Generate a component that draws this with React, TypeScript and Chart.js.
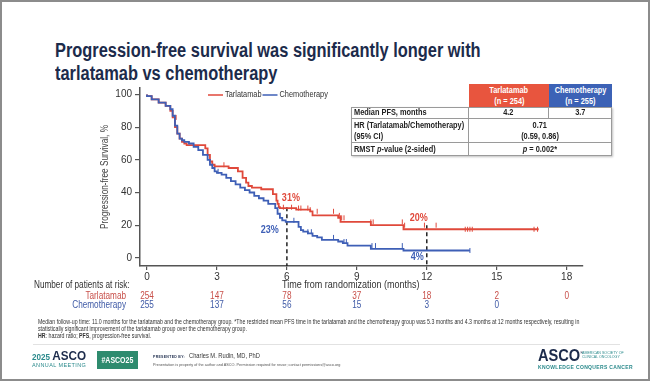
import React, { useEffect, useRef } from "react";
import { Chart, registerables } from "chart.js";

Chart.register(...registerables);

const SANS = '"Liberation Sans", Arial, sans-serif';
const SX = 0.82; // horizontal compression to mimic a narrow face

// ---- Data ----
const tarTimes = [0, 0.2, 0.5, 0.8, 1.0, 1.1, 1.2, 1.3, 1.4, 1.5, 1.6, 1.7, 2.5, 2.6, 2.7, 2.8, 2.9, 3.5, 3.9, 4.1, 4.25, 4.35, 4.5, 4.9, 5.4, 5.55, 5.6, 5.65, 5.7, 6.4, 7.0, 7.1, 8.2, 8.3, 9.6, 11.0, 13.6, 16.8];
const tarPFS = [100, 99, 97, 95, 93, 90, 86, 80, 76, 73, 71, 70, 69, 67, 63, 59, 57, 56, 55, 53, 49, 46, 44, 43, 42, 39, 35, 33, 31, 30.5, 29.5, 28.5, 26, 24.5, 22, 20, 17.5, 17.5];

const chemoTimes = [0, 0.2, 0.5, 0.8, 1.0, 1.1, 1.2, 1.3, 1.4, 1.5, 1.6, 1.8, 2.0, 2.2, 2.4, 2.6, 2.7, 2.8, 2.9, 3.0, 3.2, 3.4, 3.6, 3.8, 4.0, 4.2, 4.4, 4.6, 4.8, 5.0, 5.2, 5.5, 5.6, 5.7, 5.8, 5.95, 6.5, 6.6, 6.7, 6.9, 7.1, 7.3, 7.5, 8.2, 8.4, 8.6, 9.6, 11.0, 11.8, 13.85];
const chemoPFS = [100, 99, 97, 95, 93, 91, 87, 81, 76, 73, 72, 71, 70, 68, 66, 63, 60, 57, 55, 53, 52, 51, 49, 47, 45, 43, 41.5, 40, 38, 36.5, 35, 33, 30.5, 27, 24.5, 23, 22, 19, 17, 16, 15, 13.5, 12.5, 11, 10, 9, 7.5, 5.5, 4.5, 4.5];

const tarCensorTimes = [1.25, 3.3, 5.85, 6.2, 6.5, 6.6, 6.9, 7.0, 7.3, 8.0, 8.25, 8.3, 8.35, 8.45, 9.6, 9.7, 10.95, 11.05, 11.9, 12.4, 13.65, 13.75, 13.85, 13.95, 16.6, 16.75];
const chemoCensorTimes = [3.05, 6.3, 6.9, 7.05, 8.0, 8.45, 8.55, 9.65, 9.8, 10.95, 13.85];

const xTicks = [0, 3, 6, 9, 12, 15, 18];
const yTicks = [0, 20, 40, 60, 80, 100];

const atRiskTar = [254, 147, 78, 37, 18, 2, 0];
const atRiskChemo = [255, 137, 56, 15, 3, 0];

const landmarkMonths = [6, 12];
const landmarkTar = [31, 20];
const landmarkChemo = [23, 4];

const seriesNames = ["Tarlatamab", "Chemotherapy"];
const xTitle = "Time from randomization (months)";
const yTitle = "Progression-free Survival, %";
const RED = "#e0493b";
const BLUE = "#3e5fb6";
const RED_TXT = "#c8504a";
const BLUE_TXT = "#3f5aa6";

function stepValue(times: number[], values: number[], t: number) {
  let v = values[0];
  for (let i = 0; i < times.length; i++) if (times[i] <= t) v = values[i];
  return v;
}

function narrowText(ctx: any, text: string, x: number, y: number, align: string, rotate = 0) {
  ctx.save();
  ctx.translate(x, y);
  if (rotate) ctx.rotate(rotate);
  ctx.scale(SX, 1);
  ctx.textAlign = align;
  ctx.fillText(text, 0, 0);
  ctx.restore();
}

const overlayPlugin = {
  id: "overlay",
  beforeDatasetsDraw(chart: any) {
    const ctx = chart.ctx;
    const xs = chart.scales.x;
    const ys = chart.scales.y;
    const area = chart.chartArea;
    ctx.save();
    ctx.setLineDash([4, 3]);
    ctx.strokeStyle = "#222";
    ctx.lineWidth = 1.5;
    landmarkMonths.forEach((m, i) => {
      const x = xs.getPixelForValue(m);
      ctx.beginPath();
      ctx.moveTo(x, ys.getPixelForValue(landmarkTar[i]));
      ctx.lineTo(x, area.bottom);
      ctx.stroke();
    });
    ctx.restore();
  },
  afterDraw(chart: any) {
    const ctx = chart.ctx;
    const xs = chart.scales.x;
    const ys = chart.scales.y;
    const area = chart.chartArea;
    ctx.save();
    ctx.textBaseline = "middle";

    // axis titles
    ctx.fillStyle = "#333";
    ctx.font = `11px ${SANS}`;
    narrowText(ctx, xTitle, (xs.getPixelForValue(xTicks[0]) + xs.getPixelForValue(xTicks[xTicks.length - 1])) / 2 - 6, 285, "center");
    ctx.fillStyle = "#444";
    ctx.font = `10px ${SANS}`;
    narrowText(ctx, yTitle, 105, (area.top + area.bottom) / 2, "center", -Math.PI / 2);

    // landmark labels
    ctx.font = `bold 11px ${SANS}`;
    const x6 = xs.getPixelForValue(landmarkMonths[0]);
    const x12 = xs.getPixelForValue(landmarkMonths[1]);
    ctx.fillStyle = RED;
    narrowText(ctx, `${landmarkTar[0]}%`, x6 + 4, ys.getPixelForValue(landmarkTar[0]) - 9, "center");
    narrowText(ctx, `${landmarkTar[1]}%`, x12 - 8, ys.getPixelForValue(landmarkTar[1]) - 7, "center");
    ctx.fillStyle = BLUE;
    narrowText(ctx, `${landmarkChemo[0]}%`, x6 - 8, ys.getPixelForValue(landmarkChemo[0]) + 10, "right");
    narrowText(ctx, `${landmarkChemo[1]}%`, x12 - 3, ys.getPixelForValue(landmarkChemo[1]) + 6, "right");

    // legend
    ctx.font = `9px ${SANS}`;
    let lx = 208;
    const ly = 95;
    [RED, BLUE].forEach((c, i) => {
      ctx.strokeStyle = c;
      ctx.lineWidth = 1.5;
      ctx.beginPath();
      ctx.moveTo(lx, ly);
      ctx.lineTo(lx + 15, ly);
      ctx.stroke();
      ctx.fillStyle = "#333";
      narrowText(ctx, seriesNames[i], lx + 17, ly, "left");
      lx += 17 + ctx.measureText(seriesNames[i]).width * SX + 1;
    });

    // at risk table
    ctx.font = `10px ${SANS}`;
    ctx.fillStyle = "#333";
    narrowText(ctx, "Number of patients at risk:", 34, 285, "left");
    ctx.fillStyle = RED_TXT;
    narrowText(ctx, seriesNames[0], 126, 296, "right");
    ctx.fillStyle = BLUE_TXT;
    narrowText(ctx, seriesNames[1], 126, 305, "right");
    ctx.fillStyle = RED_TXT;
    atRiskTar.forEach((n, i) => narrowText(ctx, String(n), xs.getPixelForValue(xTicks[i]), 296, "center"));
    ctx.fillStyle = BLUE_TXT;
    atRiskChemo.forEach((n, i) => narrowText(ctx, String(n), xs.getPixelForValue(xTicks[i]), 305, "center"));
    ctx.restore();
  },
};

function KMChart() {
  const ref = useRef<HTMLCanvasElement | null>(null);
  useEffect(() => {
    if (!ref.current) return;
    const tarLine = tarTimes.map((t, i) => ({ x: t, y: tarPFS[i] }));
    const chemoLine = chemoTimes.map((t, i) => ({ x: t, y: chemoPFS[i] }));
    const tarCens = tarCensorTimes.map((t) => ({ x: t, y: stepValue(tarTimes, tarPFS, t) }));
    const chemoCens = chemoCensorTimes.map((t) => ({ x: t, y: stepValue(chemoTimes, chemoPFS, t) }));
    const chart = new Chart(ref.current, {
      type: "scatter",
      data: {
        datasets: [
          { label: seriesNames[0], data: tarLine, showLine: true, stepped: "after", borderColor: RED, borderWidth: 1.8, pointRadius: 0, order: 4 },
          { label: seriesNames[0] + " censored", data: tarCens, showLine: false, pointStyle: "line", rotation: 90, pointRadius: 2.5, borderColor: RED, borderWidth: 1, order: 3 },
          { label: seriesNames[1], data: chemoLine, showLine: true, stepped: "after", borderColor: BLUE, borderWidth: 1.8, pointRadius: 0, order: 2 },
          { label: seriesNames[1] + " censored", data: chemoCens, showLine: false, pointStyle: "line", rotation: 90, pointRadius: 2.5, borderColor: BLUE, borderWidth: 1, order: 1 },
        ],
      },
      options: {
        responsive: false,
        animation: false,
        events: [],
        layout: { padding: { left: 95, top: 88, right: 67, bottom: 91 } },
        plugins: { legend: { display: false }, tooltip: { enabled: false } },
        scales: {
          x: {
            type: "linear",
            min: -0.3,
            max: 18.7,
            afterFit: (s: any) => { s.height = 25; },
            afterBuildTicks: (s: any) => { s.ticks = xTicks.map((v) => ({ value: v })); },
            border: { display: true, color: "#555", width: 1.5 },
            grid: { drawOnChartArea: false, drawTicks: true, tickLength: 4, color: "#555", lineWidth: 1.2 },
            ticks: { color: "#333", font: { family: SANS, size: 10 }, padding: 1, maxRotation: 0 },
          },
          y: {
            type: "linear",
            min: -5,
            max: 104,
            afterFit: (s: any) => { s.width = 45; },
            afterBuildTicks: (s: any) => { s.ticks = yTicks.map((v) => ({ value: v })); },
            border: { display: true, color: "#555", width: 1.5 },
            grid: { drawOnChartArea: false, drawTicks: true, tickLength: 5, color: "#555", lineWidth: 1.2 },
            ticks: { color: "#333", font: { family: SANS, size: 10 }, padding: 3 },
          },
        },
      },
      plugins: [overlayPlugin],
    } as any);
    return () => chart.destroy();
  }, []);
  return <canvas ref={ref} width={650} height={382} style={{ position: "absolute", left: 0, top: 0, width: 650, height: 382 }} />;
}

function N({ children, origin = "left" }: { children: any; origin?: string }) {
  return (
    <span style={{ display: "inline-block", transform: `scaleX(${SX})`, transformOrigin: origin, whiteSpace: "nowrap" }}>{children}</span>
  );
}

const cell: React.CSSProperties = {
  position: "absolute",
  boxSizing: "border-box",
  display: "flex",
  flexDirection: "column",
  justifyContent: "center",
  fontFamily: SANS,
  fontWeight: "bold",
  fontSize: 9,
  lineHeight: "10.5px",
  color: "#222",
};

function StatsTable() {
  const B = "1px solid #9a9a9a";
  return (
    <div style={{ position: "absolute", left: 0, top: 0 }}>
      <div style={{ ...cell, left: 469, top: 84, width: 80, height: 23, background: "#e8553e", color: "#fff", alignItems: "center" }}>
        <N origin="center">Tarlatamab</N>
        <N origin="center">(n = 254)</N>
      </div>
      <div style={{ ...cell, left: 549, top: 84, width: 63, height: 23, background: "#3c62b6", color: "#fff", alignItems: "center" }}>
        <N origin="center">Chemotherapy</N>
        <N origin="center">(n = 255)</N>
      </div>
      <div style={{ position: "absolute", left: 351, top: 107, width: 261, height: 49, boxSizing: "border-box", border: B, background: "#fff", boxShadow: "1px 1px 2px rgba(0,0,0,0.25)" }} />
      <div style={{ ...cell, left: 351, top: 107, width: 118, height: 12, borderRight: B, borderBottom: B, paddingLeft: 3 }}><N>Median PFS, months</N></div>
      <div style={{ ...cell, left: 469, top: 107, width: 80, height: 12, borderRight: B, borderBottom: B, alignItems: "center" }}><N origin="center">4.2</N></div>
      <div style={{ ...cell, left: 549, top: 107, width: 62, height: 12, borderBottom: B, alignItems: "center" }}><N origin="center">3.7</N></div>
      <div style={{ ...cell, left: 351, top: 119, width: 118, height: 24, borderRight: B, borderBottom: B, paddingLeft: 3, alignItems: "flex-start" }}>
        <N>HR (Tarlatamab/Chemotherapy)</N>
        <N>(95% CI)</N>
      </div>
      <div style={{ ...cell, left: 469, top: 119, width: 142, height: 24, borderBottom: B, alignItems: "center" }}>
        <N origin="center">0.71</N>
        <N origin="center">(0.59, 0.86)</N>
      </div>
      <div style={{ ...cell, left: 351, top: 143, width: 118, height: 12, borderRight: B, paddingLeft: 3, alignItems: "flex-start" }}>
        <N>RMST <i>p</i>-value (2-sided)</N>
      </div>
      <div style={{ ...cell, left: 469, top: 143, width: 142, height: 12, alignItems: "center" }}>
        <N origin="center"><i>p</i> = 0.002*</N>
      </div>
    </div>
  );
}

function Footer() {
  const small: React.CSSProperties = { position: "absolute", fontFamily: SANS, whiteSpace: "nowrap" };
  return (
    <div style={{ position: "absolute", left: 0, top: 0 }}>
      <div style={{ ...small, left: 38, top: 318, fontSize: 6.4, lineHeight: "7.2px", color: "#333", transform: `scaleX(${SX})`, transformOrigin: "left top" }}>
        <div>Median follow-up time: 11.0 months for the tarlatamab and the chemotherapy group. *The restricted mean PFS time in the tarlatamab and the chemotherapy group was 5.3 months and 4.3 months at 12 months respectively, resulting in</div>
        <div>statistically significant improvement of the tarlatamab group over the chemotherapy group.</div>
        <div><b>HR</b>: hazard ratio; <b>PFS</b>, progression-free survival.</div>
      </div>
      <div style={{ position: "absolute", left: 33, top: 344, width: 587, height: 1, background: "#e2e2e2" }} />
      <div style={{ ...small, left: 32, top: 349, fontSize: 13, lineHeight: "14px", fontWeight: "bold", color: "#1c2b4b", transform: "scaleX(0.9)", transformOrigin: "left top" }}>
        <span style={{ fontSize: 9, color: "#2b8a8c", fontWeight: "bold" }}>2025 </span>ASCO
      </div>
      <div style={{ ...small, left: 32, top: 362, fontSize: 5.5, letterSpacing: 0.4, color: "#2b8a8c" }}>ANNUAL MEETING</div>
      <div style={{ position: "absolute", left: 97, top: 351, width: 41, height: 18, background: "#2e8b6e", color: "#fff", fontFamily: SANS, fontWeight: "bold", fontSize: 8.5, display: "flex", alignItems: "center", justifyContent: "center" }}>
        <N origin="center">#ASCO25</N>
      </div>
      <div style={{ ...small, left: 153, top: 352, fontSize: 7, color: "#333" }}>
        <span style={{ fontSize: 3.5, fontWeight: "bold", color: "#1c2b4b", letterSpacing: 0.3 }}>PRESENTED BY:</span>&nbsp;&nbsp;<N>Charles M. Rudin, MD, PhD</N>
      </div>
      <div style={{ ...small, left: 153, top: 363, fontSize: 3.8, color: "#555" }}>Presentation is property of the author and ASCO. Permission required for reuse; contact permissions@asco.org</div>
      <div style={{ ...small, left: 538, top: 346, fontSize: 17, fontWeight: "bold", color: "#1c2b4b", transform: "scaleX(0.86)", transformOrigin: "left top" }}>ASCO<sup style={{ fontSize: 4 }}>®</sup></div>
      <div style={{ ...small, left: 582, top: 351, fontSize: 3.6, lineHeight: "4.4px", color: "#2b8a8c" }}>
        <div>AMERICAN SOCIETY OF</div>
        <div>CLINICAL ONCOLOGY</div>
      </div>
      <div style={{ ...small, left: 538, top: 364, fontSize: 5, letterSpacing: 0.35, fontWeight: "bold", color: "#2b8a8c" }}>KNOWLEDGE CONQUERS CANCER</div>
    </div>
  );
}

export default function App() {
  return (
    <div style={{ position: "fixed", left: 0, top: 0, width: 650, height: 382, background: "#fff", overflow: "hidden" }}>
      <div style={{ position: "absolute", left: 55, top: 39, fontFamily: SANS, fontWeight: "bold", fontSize: 20, lineHeight: "23px", color: "#1c2b4b", whiteSpace: "nowrap", transform: `scaleX(${SX})`, transformOrigin: "left top" }}>
        <div>Progression-free survival was significantly longer with</div>
        <div>tarlatamab vs chemotherapy</div>
      </div>
      <KMChart />
      <StatsTable />
      <Footer />
      <div style={{ position: "absolute", left: 0, top: 0, width: 650, height: 381, boxSizing: "border-box", border: "2px solid #8c8c8c", pointerEvents: "none" }} />
    </div>
  );
}
